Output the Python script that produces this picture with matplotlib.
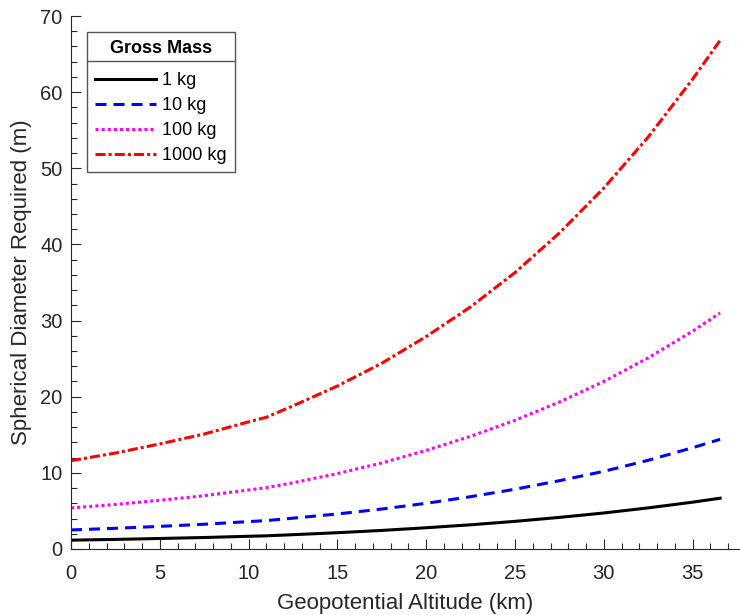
import matplotlib
matplotlib.use("Agg")
import matplotlib.pyplot as plt
from matplotlib.lines import Line2D
from matplotlib.ticker import MultipleLocator

# ---- data ----
altitude_km = [0, 2.5, 5, 7.5, 10, 11, 12.5, 15, 17.5, 20, 22.5, 25, 27.5, 30, 32.5, 35, 36.55]
d_1kg    = [1.16, 1.26, 1.38, 1.51, 1.67, 1.73, 1.88, 2.14, 2.44, 2.79, 3.18, 3.63, 4.15, 4.73, 5.40, 6.15, 6.67]
d_10kg   = [2.50, 2.72, 2.97, 3.25, 3.60, 3.73, 4.05, 4.60, 5.25, 6.00, 6.87, 7.85, 8.97, 10.2, 11.65, 13.3, 14.4]
d_100kg  = [5.40, 5.85, 6.40, 7.00, 7.75, 8.05, 8.70, 9.90, 11.3, 12.95, 14.8, 16.9, 19.3, 22.0, 25.1, 28.6, 31.0]
d_1000kg = [11.6, 12.6, 13.8, 15.1, 16.7, 17.3, 18.8, 21.4, 24.4, 27.9, 31.8, 36.3, 41.5, 47.4, 54.1, 61.7, 66.8]
series_labels = ["1 kg", "10 kg", "100 kg", "1000 kg"]
legend_title = "Gross Mass"
x_label = "Geopotential Altitude (km)"
y_label = "Spherical Diameter Required (m)"

plt.rcParams['font.family'] = ['Liberation Sans', 'DejaVu Sans']
axcol = '#262626'

fig = plt.figure(figsize=(7.4, 6.15), dpi=100)
ax = fig.add_axes([71/740, 66/615, 669/740, 533/615])

lw = 2.2
ax.plot(altitude_km, d_1kg, color='#000000', lw=lw, linestyle='-', label=series_labels[0])
ax.plot(altitude_km, d_10kg, color='#0000ff', lw=lw, linestyle=(0, (3.6, 2.3)), label=series_labels[1])
ax.plot(altitude_km, d_100kg, color='#ff00ff', lw=lw, linestyle=(0, (1, 1)), label=series_labels[2])
ax.plot(altitude_km, d_1000kg, color='#ff0000', lw=lw, linestyle=(0, (3.3, 1, 1, 1)), label=series_labels[3])

ax.set_xlim(0, 37.67)
ax.set_ylim(0, 70)
ax.xaxis.set_major_locator(MultipleLocator(5))
ax.xaxis.set_minor_locator(MultipleLocator(1))
ax.yaxis.set_major_locator(MultipleLocator(10))
ax.yaxis.set_minor_locator(MultipleLocator(2))

for s in ['top', 'right']:
    ax.spines[s].set_visible(False)
for s in ['left', 'bottom']:
    ax.spines[s].set_color(axcol)
    ax.spines[s].set_linewidth(0.8)

ax.tick_params(which='both', direction='in', colors=axcol, labelcolor=axcol, labelsize=14.5, width=0.8)
ax.tick_params(which='major', length=7)
ax.tick_params(which='minor', length=4)
ax.tick_params(axis='x', which='major', pad=11)
ax.tick_params(axis='y', which='major', pad=6)

ax.set_xlabel(x_label, fontsize=16, color=axcol, labelpad=7)
ax.set_ylabel(y_label, fontsize=16, color=axcol, labelpad=6)

leg = ax.legend(loc='upper left', bbox_to_anchor=(16/669, 517/533), borderaxespad=0,
                fontsize=13, title=legend_title, fancybox=False, framealpha=1,
                edgecolor='#555555', handlelength=3.4, handletextpad=0.35,
                labelspacing=0.45, borderpad=0.42)
leg.get_title().set_fontweight('bold')
leg.get_title().set_fontsize(13)
leg.get_frame().set_linewidth(1.0)
try:
    leg._legend_box.sep = 11
except Exception:
    pass

fig.canvas.draw()
bb = leg.get_window_extent()
tb = leg.get_title().get_window_extent()
ysep = tb.y0 - 4
inv = fig.transFigure.inverted()
p0 = inv.transform((bb.x0, ysep))
p1 = inv.transform((bb.x1, ysep))
fig.add_artist(Line2D([p0[0], p1[0]], [p0[1], p1[1]], transform=fig.transFigure,
                      color='#555555', lw=1.0, zorder=10))

fig.savefig("out.png", dpi=100)
